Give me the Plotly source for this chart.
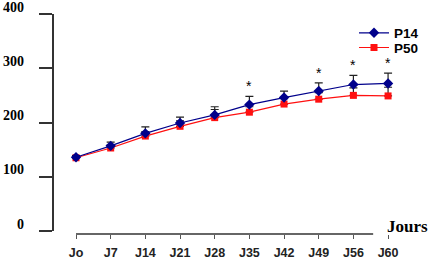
import plotly.graph_objects as go

days = ["Jo", "J7", "J14", "J21", "J28", "J35", "J42", "J49", "J56", "J60"]
p14 = [136, 157, 180, 199, 214, 233, 246, 258, 270, 272]
p14_err = [3, 7, 12, 11, 15, 15, 12, 15, 17, 19]
p50 = [135, 153, 175, 193, 209, 219, 234, 243, 250, 249]
p50_err = [3, 6, 8, 10, 15, 10, 10, 12, 14, 16]
stars = [False, False, False, False, False, True, False, True, True, True]
y_ticks = [0, 100, 200, 300, 400]

xi = list(range(len(days)))

W, H = 432, 263
ml, mr, mt, mb = 53, 20, 14, 29
pw, ph = W - ml - mr, H - mt - mb

fig = go.Figure()
fig.add_trace(go.Scatter(
    x=xi, y=p50, name="P50", mode="lines+markers",
    line=dict(color="#FF1010", width=1.2),
    marker=dict(symbol="square", size=7, color="#FF1010"),
    error_y=dict(type="data", array=p50_err, arrayminus=[0]*len(p50), symmetric=False,
                 color="#222222", thickness=1.2, width=4),
    cliponaxis=False, legend="legend2"))
fig.add_trace(go.Scatter(
    x=xi, y=p14, name="P14", mode="lines+markers",
    line=dict(color="#00008B", width=1.2),
    marker=dict(symbol="diamond", size=8, color="#00008B"),
    error_y=dict(type="data", array=p14_err, arrayminus=[0]*len(p14), symmetric=False,
                 color="#222222", thickness=1.2, width=4),
    cliponaxis=False, legend="legend"))

for i, s in enumerate(stars):
    if s:
        fig.add_annotation(x=xi[i], y=p14[i] + p14_err[i], text="*", showarrow=False,
                           yshift=10, font=dict(family="Liberation Sans", size=14, color="black"))

# y tick labels (drawn slightly above their ticks, as in the original)
for v in y_ticks:
    fig.add_annotation(xref="paper", yref="y", x=(26 - ml) / pw, y=v, yshift=7,
                       xanchor="right", yanchor="middle", text=str(v), showarrow=False,
                       font=dict(family="Liberation Serif", size=14, color="black", weight="bold"))

fig.add_annotation(xref="paper", yref="paper", x=(385 - ml) / pw, y=(H - mb - 226) / ph,
                   xanchor="left", yanchor="middle", text="Jours", showarrow=False,
                   font=dict(family="Liberation Serif", size=17, color="black", weight="bold"))

# x axis line (ends before the last tick, as in the original)
fig.add_shape(type="line", xref="x", yref="paper", x0=xi[0], x1=8.57, y0=0, y1=0,
              line=dict(color="#333333", width=1.3))

x0px = 65.6
fig.update_layout(
    template="none",
    width=W, height=H, margin=dict(l=ml, r=mr, t=mt, b=mb, autoexpand=False),
    paper_bgcolor="white", plot_bgcolor="white",
    xaxis=dict(domain=[(x0px - ml) / pw, 1], range=[-0.3, 9.69], anchor="free", position=0,
               automargin=False,
               tickmode="array", tickvals=xi, ticktext=days, showline=False, showgrid=False,
               zeroline=False, ticks="outside", ticklen=4, tickwidth=1, tickcolor="#555555",
               ticklabelstandoff=3,
               tickfont=dict(family="Liberation Sans", size=12.5, color="#222222", weight="bold")),
    yaxis=dict(domain=[3 / ph, 1], range=[0, 400], anchor="free", position=0,
               automargin=False,
               tickmode="array", tickvals=y_ticks, showticklabels=False,
               showline=True, linecolor="#333333", linewidth=1.5, showgrid=False, zeroline=False,
               ticks="outside", ticklen=13, tickwidth=1.5, tickcolor="#333333"),
    legend=dict(x=(354 - ml) / pw, y=(H - mb - 33) / ph, xanchor="left", yanchor="middle",
                bgcolor="rgba(0,0,0,0)", borderwidth=0,
                font=dict(family="Liberation Sans", size=13.5, color="black", weight="bold")),
    legend2=dict(x=(354 - ml) / pw, y=(H - mb - 47.7) / ph, xanchor="left", yanchor="middle",
                 bgcolor="rgba(0,0,0,0)", borderwidth=0,
                 font=dict(family="Liberation Sans", size=13.5, color="black", weight="bold")),
    showlegend=True,
)

fig.write_html("out.html")
